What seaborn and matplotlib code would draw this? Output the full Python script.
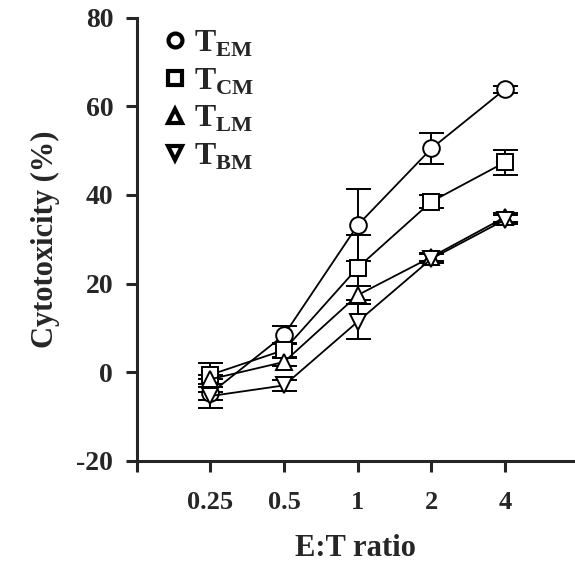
import matplotlib
matplotlib.use("Agg")
import matplotlib.pyplot as plt
from matplotlib.lines import Line2D
import seaborn as sns
import pandas as pd
import numpy as np

# E:T ratios (categorical positions on the x axis)
ratios = ["0.25", "0.5", "1", "2", "4"]

# cytotoxicity (%), mean and error per subset
t_em = [-4.8, 8.4, 33.2, 50.5, 63.9]
t_em_err = [3.3, 2.0, 8.1, 3.5, 0.8]
t_cm = [-0.6, 5.0, 23.6, 38.5, 47.4]
t_cm_err = [2.7, 1.5, 7.3, 1.5, 2.8]
t_lm = [-1.6, 2.3, 17.4, 26.0, 35.0]
t_lm_err = [1.0, 1.0, 2.0, 1.0, 1.0]
t_bm = [-5.4, -3.0, 11.4, 25.6, 34.4]
t_bm_err = [1.0, 1.2, 4.0, 1.0, 1.0]

subsets = ["TEM", "TCM", "TLM", "TBM"]
labels = [r"$\mathbf{T}_{\mathbf{EM}}$", r"$\mathbf{T}_{\mathbf{CM}}$",
          r"$\mathbf{T}_{\mathbf{LM}}$", r"$\mathbf{T}_{\mathbf{BM}}$"]
markers = {"TEM": "o", "TCM": "s", "TLM": "^", "TBM": "v"}

sns.set_style("ticks")
plt.rcParams["font.family"] = ["Liberation Serif", "DejaVu Serif"]
plt.rcParams["font.weight"] = "bold"
plt.rcParams["axes.unicode_minus"] = False
plt.rcParams["mathtext.fontset"] = "custom"
plt.rcParams["mathtext.rm"] = "Liberation Serif"
plt.rcParams["mathtext.bf"] = "Liberation Serif:bold"

# long table for seaborn
rows = []
for name, vals, errs in zip(subsets, [t_em, t_cm, t_lm, t_bm],
                            [t_em_err, t_cm_err, t_lm_err, t_bm_err]):
    for i, r in enumerate(ratios):
        rows.append({"pos": i, "ratio": r, "subset": name, "value": vals[i], "err": errs[i]})
df = pd.DataFrame(rows)

fig = plt.figure(figsize=(5.75, 5.67), dpi=100)
ax = fig.add_axes([0.238, 0.1875, 0.762, 0.781])

# error bars first, under the markers
for name in subsets:
    d = df[df["subset"] == name]
    ax.errorbar(d["pos"], d["value"], yerr=d["err"], fmt="none", ecolor="black",
                elinewidth=1.4, capsize=9, capthick=1.4, zorder=1)

sns.lineplot(data=df, x="pos", y="value", style="subset", markers=markers,
             dashes=False, color="black", lw=1.3, markersize=12,
             markerfacecolor="white", markeredgecolor="black", mew=1.4,
             errorbar=None, legend=False, ax=ax, zorder=2)

ax.set_xlim(-1, 4.95)
ax.set_ylim(-20, 80)
ax.set_xticks(range(-1, 5))
ax.set_xticklabels([""] + ratios)
ax.set_yticks([-20, 0, 20, 40, 60, 80])
ax.tick_params(axis="both", labelsize=19, width=2.2, length=8, direction="out")
ax.tick_params(axis="x", pad=14)
ax.tick_params(axis="y", labelsize=20, pad=9)
for s in ["top", "right"]:
    ax.spines[s].set_visible(False)
for s in ["left", "bottom"]:
    ax.spines[s].set_linewidth(2.2)

ax.set_xlabel("E:T ratio", fontsize=22, fontweight="bold", labelpad=14)
ax.set_ylabel("Cytotoxicity (%)", fontsize=22, fontweight="bold", labelpad=12)

handles = [Line2D([], [], ls="none", marker=markers[n], color="black",
                  markerfacecolor="white", markersize=10, mew=3) for n in subsets]
ax.legend(handles, labels, loc="upper left", bbox_to_anchor=(0.035, 1.005),
          frameon=False, fontsize=23, handlelength=0.6, handletextpad=0.3,
          labelspacing=0.23, borderaxespad=0)

fig.savefig("out.png", dpi=100)
